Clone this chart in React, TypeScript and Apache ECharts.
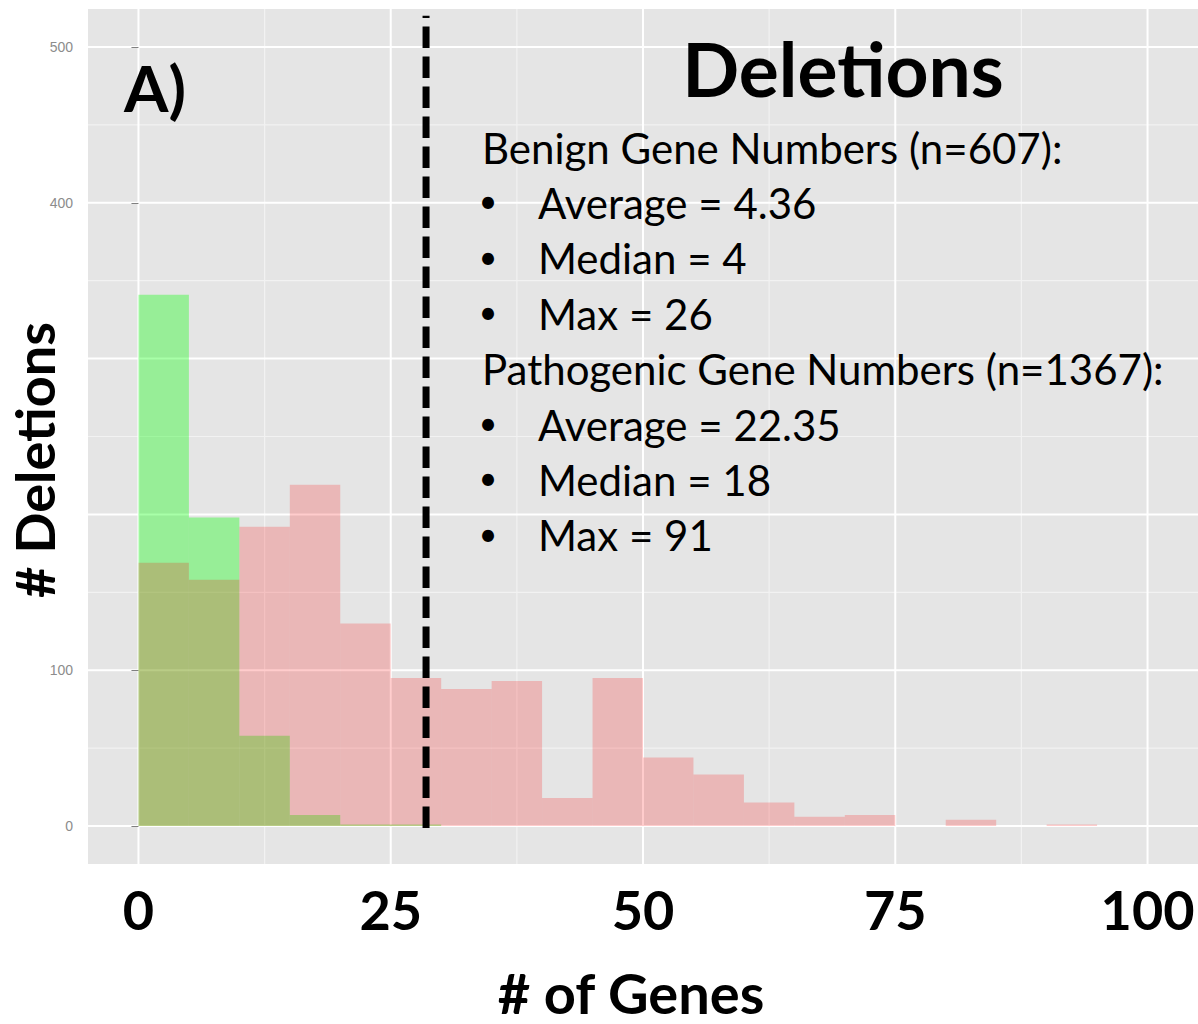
import React, { useEffect, useRef } from "react";
import * as echarts from "echarts";

// ---- data ----
const binStarts = [0, 5, 10, 15, 20, 25, 30, 35, 40, 45, 50, 55, 60, 65, 70, 75, 80, 85, 90, 95];
const binWidth = 5;
const benignCounts = [341, 198, 58, 7, 1, 1, 0, 0, 0, 0, 0, 0, 0, 0, 0, 0, 0, 0, 0, 0];
const pathogenicCounts = [169, 158, 192, 219, 130, 95, 88, 93, 18, 95, 44, 33, 15, 6, 7, 0, 4, 0, 1, 0];

const xTickLabels = [0, 25, 50, 75, 100];
const xMajorGrid = [0, 25, 50, 75, 100];
const xMinorGrid = [12.5, 37.5, 62.5, 87.5];
const yTickLabels = [0, 100, 400, 500];
const yMajorGrid = [0, 100, 200, 300, 400, 500];
const yMinorGrid = [50, 150, 250, 350, 450];

const thresholdGenes = 28.5;
const thresholdSpan = [-1.3, 520];

const panelTag = "A)";
const titleText = "Deletions";
const xTitle = "# of Genes";
const yTitle = "# Deletions";
const summaryHeaders = ["Benign Gene Numbers (n=607):", "Pathogenic Gene Numbers (n=1367):"];
const benignStats = ["Average = 4.36", "Median = 4", "Max = 26"];
const pathogenicStats = ["Average = 22.35", "Median = 18", "Max = 91"];

const X_MIN = -5;
const X_MAX = 105;
const Y_MIN = -24.4;
const Y_MAX = 524.4;

function histRender(color: string) {
  return (params: any, api: any) => {
    const x0 = api.value(0);
    const x1 = api.value(1);
    const v = api.value(2);
    if (!v) return null;
    const p0 = api.coord([x0, v]);
    const p1 = api.coord([x1, 0]);
    return {
      type: "rect",
      shape: { x: p0[0], y: p0[1], width: p1[0] - p0[0], height: p1[1] - p0[1] },
      style: { fill: color },
    };
  };
}

function hLineRender(color: string, width: number) {
  return (params: any, api: any) => {
    const cs = params.coordSys;
    const y = api.coord([0, api.value(1)])[1];
    return {
      type: "line",
      shape: { x1: cs.x, y1: y, x2: cs.x + cs.width, y2: y },
      style: { stroke: color, lineWidth: width },
    };
  };
}

function vLineRender(color: string, width: number) {
  return (params: any, api: any) => {
    const cs = params.coordSys;
    const x = api.coord([api.value(0), 0])[0];
    return {
      type: "line",
      shape: { x1: x, y1: cs.y, x2: x, y2: cs.y + cs.height },
      style: { stroke: color, lineWidth: width },
    };
  };
}

export default function App() {
  const ref = useRef<HTMLDivElement>(null);

  useEffect(() => {
    if (!ref.current) return;
    const chart = echarts.init(ref.current, undefined, { renderer: "svg" });

    const benignData = binStarts.map((b, i) => [b, b + binWidth, benignCounts[i]]);
    const pathData = binStarts.map((b, i) => [b, b + binWidth, pathogenicCounts[i]]);

    const textFont = "42px Lato";
    const rowStart = 147.5;
    const rowStep = 55.4;
    const graphics: any[] = [
      {
        type: "text",
        x: 124,
        y: 87,
        z: 100,
        style: { text: panelTag, font: "bold 64px Lato", fill: "#000", align: "left", verticalAlign: "middle" },
      },
      {
        type: "text",
        x: 843,
        y: 68,
        z: 100,
        style: { text: titleText, font: "bold 75px Lato", fill: "#000", align: "center", verticalAlign: "middle" },
      },
    ];
    const rows: { bullet: boolean; text: string }[] = [];
    rows.push({ bullet: false, text: summaryHeaders[0] });
    benignStats.forEach((t) => rows.push({ bullet: true, text: t }));
    rows.push({ bullet: false, text: summaryHeaders[1] });
    pathogenicStats.forEach((t) => rows.push({ bullet: true, text: t }));
    rows.forEach((r, i) => {
      const y = rowStart + i * rowStep;
      if (r.bullet) {
        graphics.push({
          type: "text",
          x: 488,
          y: y - 2,
          z: 100,
          style: { text: "•", font: "32px Lato", fill: "#000", align: "center", verticalAlign: "middle" },
        });
      }
      graphics.push({
        type: "text",
        x: r.bullet ? 538 : 482,
        y: y,
        z: 100,
        style: { text: r.text, font: textFont, fill: "#000", align: "left", verticalAlign: "middle" },
      });
    });

    chart.setOption({
      animation: false,
      grid: {
        left: 88,
        right: 0,
        top: 9,
        bottom: 160,
        show: true,
        backgroundColor: "#E5E5E5",
        borderWidth: 0,
        containLabel: false,
        outerBoundsMode: "none",
      },
      xAxis: {
        type: "value",
        min: X_MIN,
        max: X_MAX,
        axisLine: { show: false },
        axisTick: { show: false },
        splitLine: { show: false },
        axisLabel: {
          customValues: xTickLabels,
          margin: 18,
          fontFamily: "Lato",
          fontWeight: "bold",
          fontSize: 54,
          color: "#000",
        },
        name: xTitle,
        nameLocation: "middle",
        nameGap: 106,
        nameMoveOverlap: false,
        nameTextStyle: {
          fontFamily: "Lato",
          fontWeight: "bold",
          fontSize: 56,
          lineHeight: 44,
          color: "#000",
          padding: [0, 24, 0, 0],
        },
      },
      yAxis: {
        type: "value",
        min: Y_MIN,
        max: Y_MAX,
        axisLine: { show: false },
        axisTick: {
          show: true,
          customValues: yTickLabels,
          length: 7,
          lineStyle: { color: "#808080", width: 1 },
        },
        splitLine: { show: false },
        axisLabel: {
          customValues: yTickLabels,
          margin: 15,
          fontFamily: "Liberation Sans",
          fontSize: 14,
          color: "#8C8C8C",
        },
        name: yTitle,
        nameLocation: "middle",
        nameGap: 29,
        nameMoveOverlap: false,
        nameTextStyle: {
          fontFamily: "Lato",
          fontWeight: "bold",
          fontSize: 54,
          lineHeight: 50,
          color: "#000",
          padding: [0, 47, 0, 0],
        },
      },
      series: [
        {
          type: "custom",
          name: "minorH",
          z: 0,
          silent: true,
          renderItem: hLineRender("#F2F2F2", 1.2),
          data: yMinorGrid.map((v) => [0, v]),
        },
        {
          type: "custom",
          name: "minorV",
          z: 0,
          silent: true,
          renderItem: vLineRender("#F2F2F2", 1.2),
          data: xMinorGrid.map((v) => [v, 0]),
        },
        {
          type: "custom",
          name: "majorH",
          z: 0,
          silent: true,
          renderItem: hLineRender("#FFFFFF", 2),
          data: yMajorGrid.map((v) => [0, v]),
        },
        {
          type: "custom",
          name: "majorV",
          z: 0,
          silent: true,
          renderItem: vLineRender("#FFFFFF", 2),
          data: xMajorGrid.map((v) => [v, 0]),
        },
        {
          type: "custom",
          name: "Benign",
          z: 2,
          renderItem: histRender("rgba(0,255,0,0.34)"),
          encode: { x: [0, 1], y: 2 },
          data: benignData,
        },
        {
          type: "custom",
          name: "Pathogenic",
          z: 3,
          renderItem: histRender("rgba(255,0,0,0.2)"),
          encode: { x: [0, 1], y: 2 },
          data: pathData,
        },
        {
          type: "line",
          name: "threshold",
          z: 4,
          silent: true,
          showSymbol: false,
          symbol: "none",
          lineStyle: { color: "#000", width: 7, type: [21.5, 8.5] },
          data: [
            [thresholdGenes, thresholdSpan[0]],
            [thresholdGenes, thresholdSpan[1]],
          ],
        },
      ],
      graphic: graphics,
    });

    return () => chart.dispose();
  }, []);

  return (
    <div
      ref={ref}
      style={{ position: "fixed", left: 0, top: 0, width: 1198, height: 1024, background: "#fff" }}
    />
  );
}
